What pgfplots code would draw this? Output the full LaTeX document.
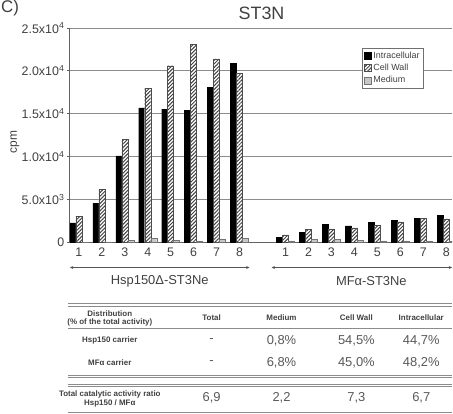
\documentclass[border=0pt]{standalone}
\usepackage{fontspec}
\setmainfont{Liberation Sans}
\usepackage{pgfplots}
\pgfplotsset{compat=1.18}
\usetikzlibrary{patterns,patterns.meta,arrows.meta}
\newcommand\myfs[1]{\fontsize{#1}{#1}\selectfont}
\definecolor{txt}{gray}{0.25}
\definecolor{val}{gray}{0.35}
\definecolor{rule}{gray}{0.55}
\pgfplotsset{sqlegend/.style={legend image code/.code={\draw[##1] (0bp,-3.5bp) rectangle (7bp,3.5bp);}}}
\begin{document}
\begin{tikzpicture}
\begin{scope}[x=1bp,y=-1bp]
\path[use as bounding box] (0,0) rectangle (453,414);
\node[font=\myfs{17},text=txt,inner sep=0] at (10,8) {C)};
\node[font=\myfs{18},text=txt,inner sep=0] at (262,13) {ST3N};
\node[rotate=90,font=\myfs{12},text=txt,inner sep=0] at (15,142) {cpm};
% brackets under groups
\draw[rule!60!black, line width=0.8pt, {Stealth[length=3.5bp,width=3bp]}-{Stealth[length=3.5bp,width=3bp]}] (70,268) -- (250,268);
\draw[rule!60!black, line width=0.8pt, {Stealth[length=3.5bp,width=3bp]}-{Stealth[length=3.5bp,width=3bp]}] (272,268) -- (453,268);
\node[font=\myfs{13},text=txt,inner sep=0] at (160,282) {Hsp150Δ-ST3Ne};
\node[font=\myfs{13},text=txt,inner sep=0] at (372,282) {MFα-ST3Ne};
% table rules
\draw[rule, line width=0.8pt] (68,304) -- (453,304);
\draw[rule, line width=0.8pt] (68,306.5) -- (453,306.5);
\draw[rule, line width=1.2pt] (68,329) -- (453,329);
\draw[rule, line width=0.8pt] (68,376) -- (453,376);
\draw[rule, line width=0.8pt] (68,378.5) -- (453,378.5);
\draw[rule, line width=0.8pt] (68,385) -- (453,385);
\draw[rule, line width=0.8pt] (68,387.5) -- (453,387.5);
\draw[rule, line width=0.8pt] (68,413) -- (453,413);
% header
\begin{scope}[every node/.style={font=\myfs{8}\bfseries,text=txt,inner sep=0}]
\node at (110,314) {Distribution};
\node at (110,323) {(\% of the total activity)};
\node at (212,318) {Total};
\node at (282,318) {Medium};
\node at (357,318) {Cell Wall};
\node at (422,318) {Intracellular};
\node at (110,341) {Hsp150 carrier};
\node at (110,363) {MFα carrier};
\node at (110,395) {Total catalytic activity ratio};
\node at (110,404) {Hsp150 / MFα};
\end{scope}
\begin{scope}[every node/.style={font=\myfs{13},text=val,inner sep=0}]
\node at (212,341) {-};
\node at (282,341) {0,8\%};
\node at (357,341) {54,5\%};
\node at (422,341) {44,7\%};
\node at (212,363) {-};
\node at (282,363) {6,8\%};
\node at (357,363) {45,0\%};
\node at (422,363) {48,2\%};
\node at (212,399) {6,9};
\node at (282,399) {2,2};
\node at (357,399) {7,3};
\node at (422,399) {6,7};
\end{scope}
\end{scope}
\begin{axis}[
  at={(70bp,-243bp)}, anchor=south west,
  scale only axis, width=383bp, height=215bp,
  xmin=0.61, xmax=17.26, ymin=0, ymax=25000,
  ybar=0pt, bar width=6bp,
  axis x line*=bottom, axis y line*=left,
  axis line style={draw=rule!70!black, line width=0.8pt, -},
  ytick={0,5000,10000,15000,20000,25000},
  yticklabels={0,5.0x10\textsuperscript{3},1.0x10\textsuperscript{4},1.5x10\textsuperscript{4},2.0x10\textsuperscript{4},2.5x10\textsuperscript{4}},
  scaled y ticks=false,
  ymajorgrids, grid style={draw=rule, line width=0.8pt},
  y tick style={draw=rule!70!black, line width=0.8pt},
  tick align=outside, major tick length=3bp,
  xtick={1,2,3,4,5,6,7,8,10,11,12,13,14,15,16,17},
  xticklabels={1,2,3,4,5,6,7,8,1,2,3,4,5,6,7,8},
  x tick style={draw=none},
  tick label style={font=\myfs{12.5}, text=txt},
  yticklabel style={xshift=1bp},
  xticklabel style={yshift=1bp},
  legend style={at={(0.765,0.907)}, anchor=north west, draw=rule!80!black,
    font=\myfs{9}, text=txt, inner sep=1.5pt, row sep=0.5pt, fill=white},
  legend cell align=left,
]
\addplot[fill=black, draw=black, line width=0.4pt, sqlegend]
coordinates {(1,2300) (2,4600) (3,10100) (4,15700) (5,15550) (6,15400) (7,18100) (8,20850)
 (10,650) (11,1200) (12,2150) (13,1950) (14,2350) (15,2600) (16,2850) (17,3150)};
\addlegendentry{Intracellular}
\addplot[fill=white, draw=black!70, line width=0.4pt,
  postaction={pattern={Lines[angle=45,distance=2.6pt,line width=1pt]}, pattern color=black!75}, sqlegend]
coordinates {(1,3050) (2,6200) (3,12000) (4,18000) (5,20600) (6,23100) (7,21400) (8,19700)
 (10,900) (11,1550) (12,1600) (13,1700) (14,2000) (15,2400) (16,2850) (17,2750)};
\addlegendentry{Cell Wall}
\addplot[fill=black!22, draw=black!55, line width=0.4pt, sqlegend]
coordinates {(1,50) (2,80) (3,250) (4,500) (5,300) (6,150) (7,400) (8,500)
 (10,200) (11,400) (12,400) (13,300) (14,200) (15,200) (16,150) (17,200)};
\addlegendentry{Medium}
\end{axis}
\end{tikzpicture}
\end{document}
